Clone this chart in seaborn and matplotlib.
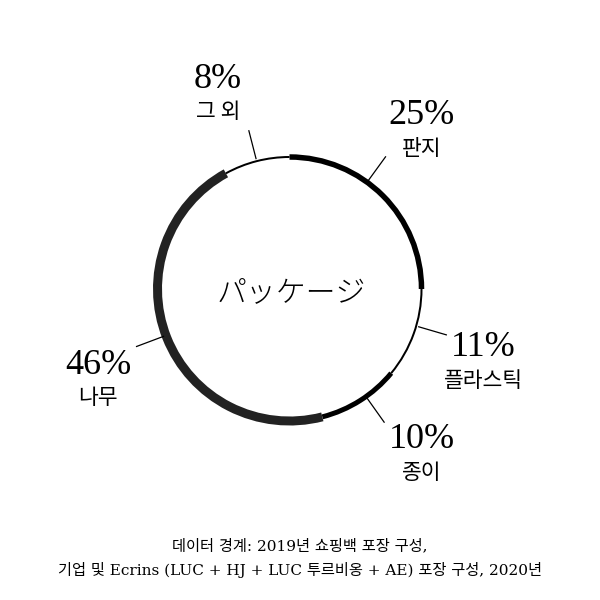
import numpy as np
import matplotlib
matplotlib.use("Agg")
import matplotlib.pyplot as plt
import seaborn as sns

# data
categories = ["판지", "플라스틱", "종이", "나무", "그 외"]
shares = [25, 11, 10, 46, 8]
center_label = "パッケージ"
source = "데이터 경계: 2019년 쇼핑백 포장 구성,\n기업 및 Ecrins (LUC + HJ + LUC 투르비옹 + AE) 포장 구성, 2020년"

# styling / layout (pixels, y measured from top)
ring_widths = [5.5, 2, 5, 9, 2]
ring_colors = ["#000000", "#000000", "#000000", "#222222", "#000000"]
leader_shift = [-9, -3.5, -3, 1, 0]
label_pos = [(422, 116), (483, 348), (422, 440), (98, 365), (218, 79)]
cx, cy, R = 289.5, 600 - 289, 132

sns.set_theme(style="white")
plt.rcParams["font.family"] = ["Liberation Serif", "Noto Sans CJK KR"]
plt.rcParams["text.color"] = "black"

fig = plt.figure(figsize=(6, 6), dpi=100)
ax = fig.add_axes([0, 0, 1, 1])

wedges, _ = ax.pie(shares, startangle=90, counterclock=False,
                   center=(cx, cy), radius=R, colors=ring_colors,
                   wedgeprops=dict(linewidth=0))
for w, lw in zip(wedges, ring_widths):
    w.set_radius(R + lw / 2)
    w.set_width(lw)

ax.set_xlim(0, 600)
ax.set_ylim(0, 600)
ax.set_aspect("equal")
ax.axis("off")

# leader lines + labels
ends = np.cumsum(shares) / sum(shares) * 360
starts = ends - np.array(shares) / sum(shares) * 360
for i, cat in enumerate(categories):
    th = np.deg2rad((starts[i] + ends[i]) / 2 + leader_shift[i])
    r0, r1 = 134, 164
    ax.plot([cx + r0 * np.sin(th), cx + r1 * np.sin(th)],
            [cy + r0 * np.cos(th), cy + r1 * np.cos(th)],
            color="black", lw=0.9, solid_capstyle="butt")
    x, y = label_pos[i]
    ax.text(x, 600 - y, f"{shares[i]}%", ha="center", va="center",
            fontsize=26, family="Liberation Serif")
    ax.text(x, 600 - y - 33, cat, ha="center", va="center",
            fontsize=15.5, family="Noto Sans CJK KR", weight="light")

ax.text(cx + 2, 600 - 293, center_label, ha="center", va="center",
        fontsize=21.5, family=["Noto Sans CJK JP", "DejaVu Sans"], weight="light")

ax.text(300, 600 - 558, source, ha="center", va="center", fontsize=11,
        linespacing=1.65, family=["DejaVu Serif", "Noto Sans CJK KR"])

fig.savefig("out.png", dpi=100)
